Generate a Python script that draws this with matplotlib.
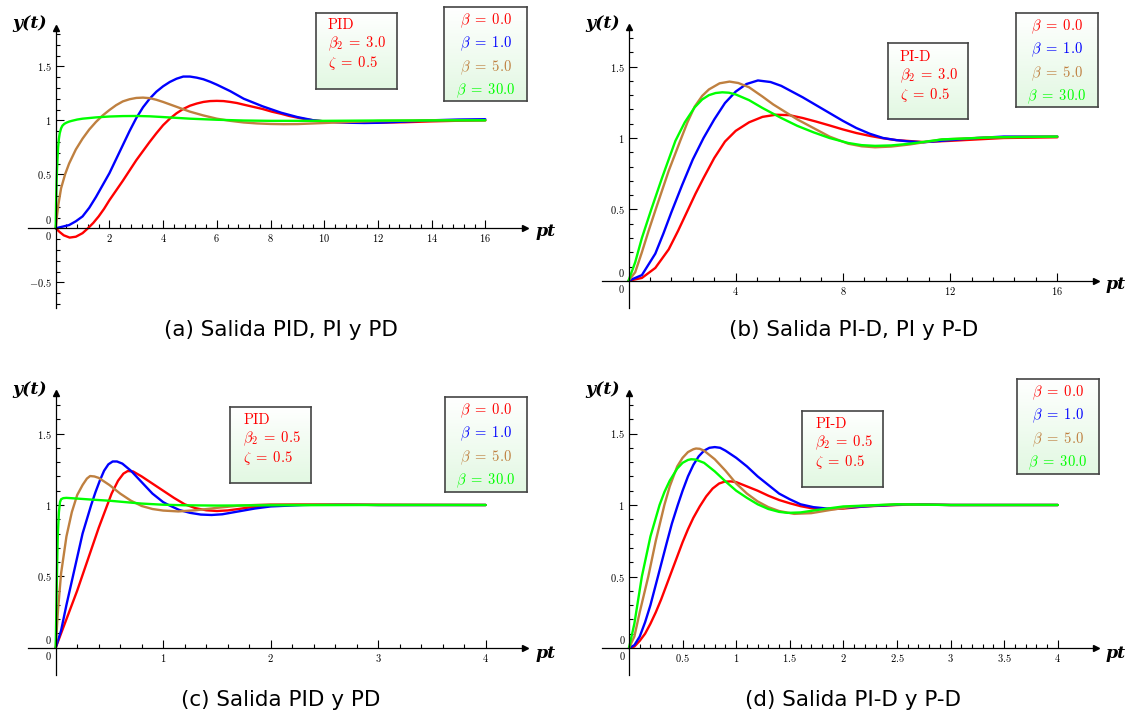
import numpy as np
import matplotlib
matplotlib.use("Agg")
import matplotlib.pyplot as plt
from matplotlib.colors import LinearSegmentedColormap

plt.rcParams["mathtext.fontset"] = "cm"

# ---- curves (t in units of pt, y = y(t)) ----
# (a) PID, beta2 = 3.0
a_t_red = [0, 0.15, 0.3, 0.52, 0.75, 1.0, 1.2, 1.4, 1.6, 1.8, 2.0, 2.25, 2.5, 2.75, 3.0, 3.25, 3.5, 3.75, 4.0, 4.25, 4.5, 4.75, 5.0, 5.25, 5.5, 5.75, 6.0, 6.25, 6.5, 6.75, 7.0, 7.35, 7.7, 8.05, 8.4, 8.7, 9.0, 9.3, 9.6, 10.0, 10.5, 11.2, 12.0, 13.0, 14.0, 15.0, 16.0]
a_y_red = [0, -0.035, -0.065, -0.086, -0.078, -0.045, 0.0, 0.05, 0.11, 0.18, 0.26, 0.35, 0.44, 0.535, 0.63, 0.715, 0.8, 0.88, 0.955, 1.015, 1.065, 1.105, 1.135, 1.155, 1.17, 1.178, 1.18, 1.178, 1.17, 1.16, 1.145, 1.125, 1.105, 1.08, 1.06, 1.04, 1.025, 1.01, 1.0, 0.99, 0.983, 0.978, 0.978, 0.982, 0.99, 0.996, 1.0]
a_t_blue = [0, 0.5, 0.75, 1.0, 1.25, 1.5, 1.75, 2.0, 2.25, 2.5, 2.75, 3.0, 3.25, 3.5, 3.75, 4.0, 4.25, 4.5, 4.75, 5.0, 5.25, 5.5, 5.75, 6.0, 6.5, 7.0, 7.35, 7.7, 8.05, 8.4, 8.7, 9.0, 9.3, 9.6, 10.0, 10.5, 11.0, 11.5, 12.0, 13.0, 14.0, 15.0, 16.0]
a_y_blue = [0, 0.03, 0.065, 0.11, 0.19, 0.29, 0.4, 0.51, 0.64, 0.77, 0.9, 1.02, 1.12, 1.2, 1.265, 1.315, 1.355, 1.385, 1.405, 1.405, 1.395, 1.38, 1.357, 1.33, 1.27, 1.2, 1.165, 1.13, 1.1, 1.07, 1.05, 1.03, 1.015, 1.0, 0.99, 0.982, 0.977, 0.975, 0.977, 0.988, 1.0, 1.007, 1.01]
a_t_brown = [0, 0.05, 0.1, 0.2, 0.35, 0.5, 0.75, 1.0, 1.25, 1.5, 1.75, 2.0, 2.25, 2.5, 2.75, 3.0, 3.25, 3.5, 3.75, 4.0, 4.5, 5.0, 5.5, 6.0, 6.5, 7.0, 7.5, 8.0, 8.5, 9.0, 10.0, 11.0, 12.0, 14.0, 16.0]
a_y_brown = [0, 0.12, 0.22, 0.37, 0.5, 0.6, 0.73, 0.83, 0.915, 0.985, 1.045, 1.095, 1.14, 1.175, 1.195, 1.207, 1.21, 1.205, 1.19, 1.17, 1.125, 1.08, 1.045, 1.015, 0.995, 0.98, 0.971, 0.966, 0.964, 0.965, 0.975, 0.985, 0.993, 1.0, 1.0]
a_t_green = [0, 0.01, 0.02, 0.035, 0.05, 0.07, 0.09, 0.12, 0.15, 0.2, 0.25, 0.32, 0.4, 0.5, 0.6, 0.8, 1.0, 1.5, 2.0, 2.5, 3.0, 3.5, 4.0, 5.0, 6.0, 7.0, 8.0, 10.0, 12.0, 16.0]
a_y_green = [0, 0.16, 0.3, 0.45, 0.55, 0.66, 0.75, 0.83, 0.88, 0.925, 0.95, 0.967, 0.978, 0.988, 0.995, 1.007, 1.015, 1.027, 1.035, 1.039, 1.04, 1.037, 1.03, 1.015, 1.005, 0.998, 0.995, 0.995, 0.998, 1.0]

# (b) PI-D, beta2 = 3.0
b_t_red = [0, 0.5, 1.0, 1.5, 1.85, 2.2, 2.5, 2.8, 3.2, 3.6, 4.0, 4.5, 5.0, 5.5, 6.0, 6.5, 7.0, 7.5, 8.0, 8.5, 9.0, 9.5, 10.0, 11.0, 12.0, 13.0, 14.0, 16.0]
b_y_red = [0, 0.02, 0.09, 0.22, 0.35, 0.49, 0.61, 0.72, 0.86, 0.975, 1.05, 1.11, 1.148, 1.163, 1.16, 1.14, 1.115, 1.088, 1.06, 1.035, 1.015, 0.998, 0.985, 0.972, 0.98, 0.99, 1.0, 1.005]
b_t_blue = [0, 0.5, 1.0, 1.3, 1.6, 2.0, 2.4, 2.8, 3.2, 3.6, 4.0, 4.4, 4.83, 5.3, 5.7, 6.0, 6.5, 7.0, 7.5, 8.0, 8.5, 9.0, 9.5, 10.0, 10.5, 11.0, 12.0, 13.0, 14.0, 16.0]
b_y_blue = [0, 0.04, 0.19, 0.33, 0.48, 0.67, 0.85, 1.0, 1.13, 1.245, 1.325, 1.378, 1.403, 1.392, 1.365, 1.335, 1.285, 1.23, 1.175, 1.12, 1.07, 1.03, 1.0, 0.985, 0.975, 0.97, 0.985, 1.0, 1.01, 1.01]
b_t_brown = [0, 0.25, 0.5, 0.75, 1.05, 1.5, 1.95, 2.2, 2.47, 2.75, 3.0, 3.4, 3.77, 4.1, 4.5, 5.0, 5.4, 5.7, 6.3, 6.9, 7.5, 8.2, 8.7, 9.2, 9.8, 10.5, 11.7, 13.6, 16.0]
b_y_brown = [0, 0.06, 0.2, 0.35, 0.52, 0.77, 0.99, 1.11, 1.22, 1.295, 1.34, 1.383, 1.395, 1.385, 1.355, 1.29, 1.235, 1.2, 1.13, 1.07, 1.01, 0.96, 0.942, 0.935, 0.94, 0.955, 0.99, 1.005, 1.01]
b_t_green = [0, 0.25, 0.5, 0.85, 1.25, 1.75, 2.1, 2.47, 2.75, 3.0, 3.25, 3.5, 3.75, 4.0, 4.5, 5.0, 5.7, 6.3, 6.9, 7.5, 8.2, 8.7, 9.2, 9.8, 10.5, 11.7, 13.6, 16.0]
b_y_green = [0, 0.13, 0.3, 0.5, 0.72, 0.98, 1.11, 1.215, 1.27, 1.3, 1.315, 1.32, 1.317, 1.305, 1.265, 1.21, 1.14, 1.085, 1.04, 1.0, 0.965, 0.95, 0.945, 0.948, 0.96, 0.99, 1.005, 1.01]

# (c) PID, beta2 = 0.5
c_t_red = [0, 0.1, 0.2, 0.3, 0.4, 0.46, 0.52, 0.58, 0.63, 0.67, 0.72, 0.8, 0.9, 1.0, 1.1, 1.2, 1.3, 1.4, 1.5, 1.6, 1.7, 1.8, 2.0, 2.25, 2.5, 3.0, 4.0]
c_y_red = [0, 0.2, 0.4, 0.62, 0.84, 0.96, 1.08, 1.17, 1.22, 1.238, 1.235, 1.2, 1.15, 1.1, 1.05, 1.005, 0.978, 0.963, 0.958, 0.962, 0.972, 0.983, 0.998, 1.005, 1.005, 1.0, 1.0]
c_t_blue = [0, 0.05, 0.1, 0.16, 0.25, 0.33, 0.37, 0.41, 0.45, 0.49, 0.53, 0.57, 0.62, 0.7, 0.8, 0.9, 1.0, 1.05, 1.15, 1.25, 1.35, 1.45, 1.55, 1.7, 1.85, 2.0, 2.3, 2.6, 3.0, 4.0]
c_y_blue = [0, 0.12, 0.3, 0.5, 0.8, 1.0, 1.09, 1.17, 1.24, 1.285, 1.305, 1.305, 1.29, 1.24, 1.16, 1.08, 1.02, 1.0, 0.965, 0.945, 0.933, 0.93, 0.935, 0.955, 0.975, 0.99, 1.0, 1.005, 1.0, 1.0]
c_t_brown = [0, 0.02, 0.05, 0.1, 0.15, 0.2, 0.25, 0.29, 0.32, 0.36, 0.4, 0.5, 0.6, 0.7, 0.8, 0.9, 1.0, 1.14, 1.3, 1.5, 1.7, 2.0, 2.5, 4.0]
c_y_brown = [0, 0.25, 0.52, 0.78, 0.95, 1.07, 1.14, 1.185, 1.203, 1.2, 1.19, 1.14, 1.08, 1.03, 0.993, 0.972, 0.961, 0.955, 0.963, 0.98, 0.995, 1.005, 1.005, 1.0]
c_t_green = [0, 0.005, 0.01, 0.015, 0.02, 0.03, 0.04, 0.05, 0.07, 0.1, 0.2, 0.35, 0.5, 0.65, 0.8, 1.0, 1.2, 1.5, 2.0, 3.0, 4.0]
c_y_green = [0, 0.22, 0.45, 0.64, 0.8, 0.95, 1.02, 1.04, 1.048, 1.05, 1.045, 1.037, 1.03, 1.02, 1.01, 1.002, 0.998, 0.996, 0.998, 1.0, 1.0]

# (d) PI-D, beta2 = 0.5
d_t_red = [0, 0.05, 0.1, 0.15, 0.2, 0.25, 0.3, 0.38, 0.45, 0.5, 0.55, 0.6, 0.66, 0.72, 0.78, 0.84, 0.89, 0.95, 1.0, 1.1, 1.2, 1.3, 1.4, 1.5, 1.6, 1.72, 1.85, 2.0, 2.2, 2.5, 2.7, 3.0, 4.0]
d_y_red = [0, 0.01, 0.05, 0.1, 0.17, 0.25, 0.34, 0.5, 0.64, 0.74, 0.83, 0.91, 0.99, 1.06, 1.115, 1.15, 1.163, 1.165, 1.16, 1.13, 1.1, 1.065, 1.035, 1.012, 0.992, 0.975, 0.97, 0.975, 0.99, 1.0, 1.005, 1.0, 1.0]
d_t_blue = [0, 0.05, 0.1, 0.15, 0.2, 0.27, 0.35, 0.4, 0.455, 0.5, 0.55, 0.6, 0.65, 0.7, 0.75, 0.8, 0.85, 0.9, 1.0, 1.1, 1.2, 1.3, 1.4, 1.5, 1.6, 1.72, 1.85, 2.0, 2.3, 2.6, 3.0, 4.0]
d_y_blue = [0, 0.02, 0.08, 0.18, 0.3, 0.5, 0.73, 0.87, 1.0, 1.1, 1.2, 1.28, 1.34, 1.38, 1.4, 1.405, 1.4, 1.38, 1.33, 1.27, 1.2, 1.14, 1.08, 1.04, 1.005, 0.985, 0.975, 0.98, 0.995, 1.005, 1.0, 1.0]
d_t_brown = [0, 0.05, 0.1, 0.18, 0.25, 0.33, 0.38, 0.45, 0.5, 0.55, 0.6, 0.625, 0.66, 0.7, 0.8, 0.9, 1.0, 1.1, 1.2, 1.3, 1.4, 1.54, 1.7, 1.9, 2.1, 2.5, 3.0, 4.0]
d_y_brown = [0, 0.08, 0.25, 0.5, 0.75, 1.0, 1.13, 1.27, 1.33, 1.37, 1.39, 1.395, 1.393, 1.38, 1.32, 1.24, 1.15, 1.08, 1.025, 0.985, 0.958, 0.938, 0.943, 0.968, 0.99, 1.005, 1.0, 1.0]
d_t_green = [0, 0.05, 0.12, 0.2, 0.285, 0.33, 0.38, 0.45, 0.5, 0.55, 0.58, 0.62, 0.7, 0.8, 0.9, 1.0, 1.1, 1.2, 1.3, 1.4, 1.48, 1.6, 1.8, 2.0, 2.5, 3.0, 4.0]
d_y_green = [0, 0.17, 0.5, 0.78, 1.0, 1.09, 1.17, 1.255, 1.295, 1.315, 1.32, 1.318, 1.295, 1.235, 1.165, 1.1, 1.05, 1.005, 0.972, 0.952, 0.945, 0.948, 0.97, 0.99, 1.005, 1.0, 1.0]

betas = ["0.0", "1.0", "5.0", "30.0"]
colors = ["#ff0000", "#0000ff", "#bf8040", "#00ff00"]
captions = ["(a) Salida PID, PI y PD", "(b) Salida PI-D, PI y P-D",
            "(c) Salida PID y PD", "(d) Salida PI-D y P-D"]
controllers = ["PID", "PI-D", "PID", "PI-D"]
beta2 = ["3.0", "3.0", "0.5", "0.5"]
zeta = "0.5"

W, H = 1133, 715
fig = plt.figure(figsize=(W / 100, H / 100), dpi=100)


def rect(l, t, r, b):
    return [l / W, 1 - b / H, (r - l) / W, (b - t) / H]


def ftext(x, y, s, **kw):
    return fig.text(x / W, 1 - y / H, s, **kw)


def fmt(v):
    return r"$%g$" % v if v >= 0 else r"$-%g$" % -v


def panel(origin, scale, box, curves, xmajor, xminor, ymajor, yminor):
    x0p, y0p = origin
    sx, sy = scale
    l, t, r, b = box
    ax = fig.add_axes(rect(l, t, r, b))
    ax.set_xlim((l - x0p) / sx, (r - x0p) / sx)
    ax.set_ylim((y0p - b) / sy, (y0p - t) / sy)
    ax.patch.set_alpha(0)
    for s in ["top", "right"]:
        ax.spines[s].set_visible(False)
    for s in ["left", "bottom"]:
        ax.spines[s].set_position(("data", 0))
        ax.spines[s].set_linewidth(0.9)
    ax.plot(1, 0, ">", color="k", ms=4, transform=ax.get_yaxis_transform(), clip_on=False)
    ax.plot(0, 1, "^", color="k", ms=4, transform=ax.get_xaxis_transform(), clip_on=False)

    ax.set_xticks(xmajor)
    ax.set_xticklabels([fmt(v) for v in xmajor])
    ax.set_xticks(xminor, minor=True)
    ax.set_yticks(ymajor)
    ax.set_yticklabels([fmt(v) for v in ymajor])
    ax.set_yticks(yminor, minor=True)
    ax.tick_params(which="both", direction="in", width=0.8, labelsize=7.5, pad=3)
    ax.tick_params(which="major", length=6)
    ax.tick_params(which="minor", length=3)
    ax.annotate(r"$0$", (0, 0), xytext=(-7, -8), textcoords="offset pixels",
                ha="center", va="center", fontsize=7.5)
    ax.annotate(r"$0$", (0, 0), xytext=(-7, 8), textcoords="offset pixels",
                ha="center", va="center", fontsize=7.5)

    for (tt, yy), c in zip(curves, colors):
        ax.plot(tt, yy, color=c, lw=1.7, solid_joinstyle="round", solid_capstyle="round")
    return ax


green_fill = LinearSegmentedColormap.from_list("gf", ["#ffffff", "#e2f8e2"])


def legend_box(l, t, r, b):
    bx = fig.add_axes(rect(l, t, r, b))
    bx.imshow(np.linspace(0, 1, 64).reshape(-1, 1), cmap=green_fill, aspect="auto",
              extent=[0, 1, 0, 1], origin="upper")
    bx.set_xticks([])
    bx.set_yticks([])
    for s in bx.spines.values():
        s.set_color("#444444")
        s.set_linewidth(1.2)


# panel layouts in pixels: origin, px per unit, axes extent (l, t, r, b)
layouts = [
    ((55.7, 228.3), (26.85, 108.0), (28, 28, 525, 308)),
    ((628.5, 280.8), (26.8, 142.8), (602, 27, 1096, 308)),
    ((55.7, 647.7), (107.5, 142.7), (28, 393, 525, 675)),
    ((629.0, 648.0), (107.2, 143.0), (602, 393, 1096, 675)),
]
all_curves = [
    [(a_t_red, a_y_red), (a_t_blue, a_y_blue), (a_t_brown, a_y_brown), (a_t_green, a_y_green)],
    [(b_t_red, b_y_red), (b_t_blue, b_y_blue), (b_t_brown, b_y_brown), (b_t_green, b_y_green)],
    [(c_t_red, c_y_red), (c_t_blue, c_y_blue), (c_t_brown, c_y_brown), (c_t_green, c_y_green)],
    [(d_t_red, d_y_red), (d_t_blue, d_y_blue), (d_t_brown, d_y_brown), (d_t_green, d_y_green)],
]
xmajors = [np.arange(2, 17, 2), np.arange(4, 17, 4), np.arange(1, 5, 1), np.arange(0.5, 4.01, 0.5)]
xminors = [np.arange(0.4, 16.01, 0.4), np.arange(0.8, 16.01, 0.8),
           np.arange(0.2, 4.01, 0.2), np.arange(0.1, 4.01, 0.1)]
ymajors = [[-0.5, 0.5, 1, 1.5], [0.5, 1, 1.5], [0.5, 1, 1.5], [0.5, 1, 1.5]]
yminors = [np.arange(-0.7, 1.81, 0.1), np.arange(0.1, 1.71, 0.1),
           np.arange(0.1, 1.71, 0.1), np.arange(0.1, 1.71, 0.1)]

# info box (l, t, r, b, text x, first line y) and beta box (l, t, r, b)
info_boxes = [(316, 13, 397, 89, 328, 25), (888, 43, 968, 119, 900, 57),
              (230, 407, 311, 483, 243, 420), (802, 411, 883, 487, 815, 424)]
beta_boxes = [(444, 7, 527, 101), (1016, 13, 1098, 107),
              (445, 397, 527, 492), (1017, 379, 1099, 474)]
label_pos = [((29.5, 23), (545.5, 231)), ((603, 23), (1116, 285)),
             ((29.5, 390), (545.5, 653)), ((603, 390), (1116, 653))]
caption_pos = [(281, 330), (854, 330), (281, 700), (853, 700)]

for i in range(4):
    origin, scale, box = layouts[i]
    panel(origin, scale, box, all_curves[i], xmajors[i], xminors[i], ymajors[i], yminors[i])

    (yl, pl) = label_pos[i]
    ftext(*yl, "y(t)", family="DejaVu Serif", style="italic", weight="bold",
          fontsize=12.5, ha="center", va="center")
    ftext(*pl, "pt", family="DejaVu Serif", style="italic", weight="bold",
          fontsize=12.5, ha="center", va="center")

    l, t, r, b, tx, ty = info_boxes[i]
    legend_box(l, t, r, b)
    ftext(tx, ty, controllers[i], family="cmr10", color="#ff0000", fontsize=10.5,
          ha="left", va="center")
    lines = [r"$\beta_2 \;=\; %s$" % beta2[i], r"$\zeta \;=\; %s$" % zeta]
    for k, s in enumerate(lines):
        ftext(tx, ty + 18.8 * (k + 1), s, color="#ff0000", fontsize=10.5, ha="left", va="center")

    l, t, r, b = beta_boxes[i]
    legend_box(l, t, r, b)
    cx = (l + r) / 2
    for k, (bv, c) in enumerate(zip(betas, colors)):
        ftext(cx, t + 14 + 23.2 * k, r"$\beta \;=\; %s$" % bv, color=c, fontsize=10.5,
              ha="center", va="center")

    ftext(*caption_pos[i], captions[i], family="DejaVu Sans", fontsize=15.5,
          ha="center", va="center")

fig.savefig("out.png", dpi=100)
